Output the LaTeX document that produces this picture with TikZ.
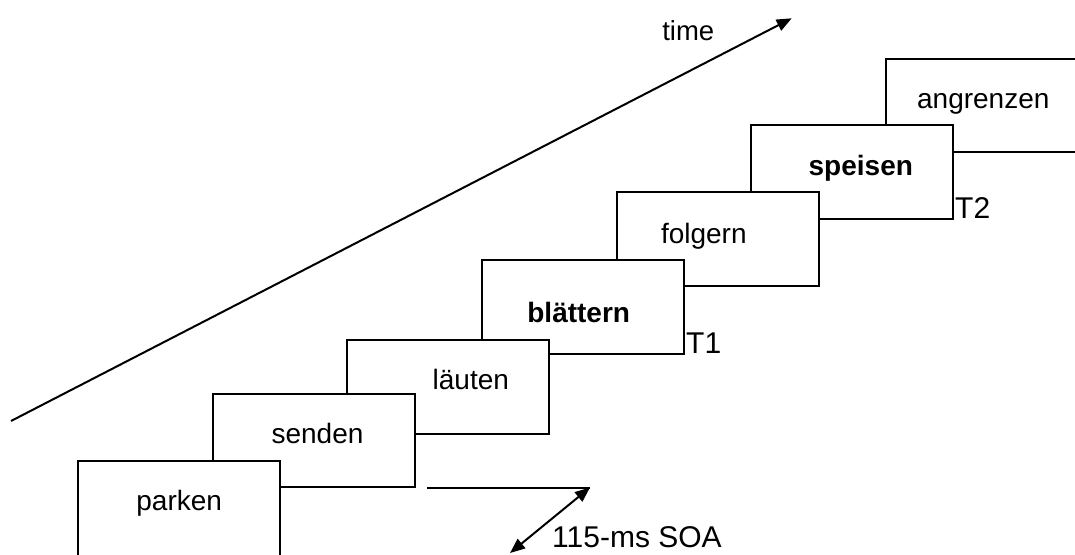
\documentclass[tikz,border=0pt]{standalone}
\usepackage{fontspec}
\setmainfont{Liberation Sans}
\usetikzlibrary{arrows.meta}
\tikzset{
  card/.style={draw=black, fill=white, line width=2pt, anchor=north west,
    minimum width=202pt, minimum height=93.7pt, inner sep=0pt, outer sep=0pt},
  word/.style={anchor=base, inner sep=0pt, font=\fontsize{28}{33}\selectfont},
  boldword/.style={word, font=\fontsize{28}{33}\selectfont\bfseries},
  tag/.style={anchor=base west, inner sep=0pt, font=\fontsize{30}{36}\selectfont},
  conn/.style={line width=2pt, black},
  tip/.style={-{Triangle[length=15pt,width=12pt]}},
}
\begin{document}
\begin{tikzpicture}[x=1pt,y=-1pt]
\useasboundingbox (0,0) rectangle (1075,554);

% cards, back to front so each earlier word covers the next one
\node[card] (b7) at (885.7,58.7) {};
\node[word] (w7) at (983.3,108.3) {angrenzen};
\node[card] (b6) at (751,125) {};
\node[boldword] (w6) at (860.8,175) {speisen};
\node[card] (b5) at (616.7,192.3) {};
\node[word] (w5) at (703.8,243.3) {folgern};
\node[card] (b4) at (482,260) {};
\node[boldword] (w4) at (578.7,322.3) {blättern};
\node[card] (b3) at (347.3,340) {};
\node[word] (w3) at (470.8,389.3) {läuten};
\node[card] (b2) at (212.7,393.7) {};
\node[word] (w2) at (317.5,443.3) {senden};
\node[card, minimum height=100pt] (b1) at (78,460.7) {};
\node[word] (w1) at (179.2,510.7) {parken};

% target labels
\node[tag] (t1) at ([xshift=2pt]b4.south east) {T1};
\node[tag] (t2) at ([xshift=2pt]b6.south east) {T2};

% time axis
\coordinate (ts) at (11,421);
\coordinate (te) at (791.7,18.3);
\draw[conn, tip] (ts) -- (te);
\node[anchor=base, inner sep=0pt, font=\fontsize{27.5}{32}\selectfont] (time) at (688.3,40.7) {time};

% stimulus onset asynchrony
\coordinate (sa) at (427,487.5);
\coordinate (sb) at (590,487.5);
\coordinate (sc) at (510,553);
\draw[conn] (sa) -- (sb);
\draw[conn, {Triangle[length=15pt,width=12pt]}-{Triangle[length=15pt,width=12pt]}] (sc) -- (sb);
\node[tag] (soa) at (552,547) {115-ms SOA};
\end{tikzpicture}
\end{document}
